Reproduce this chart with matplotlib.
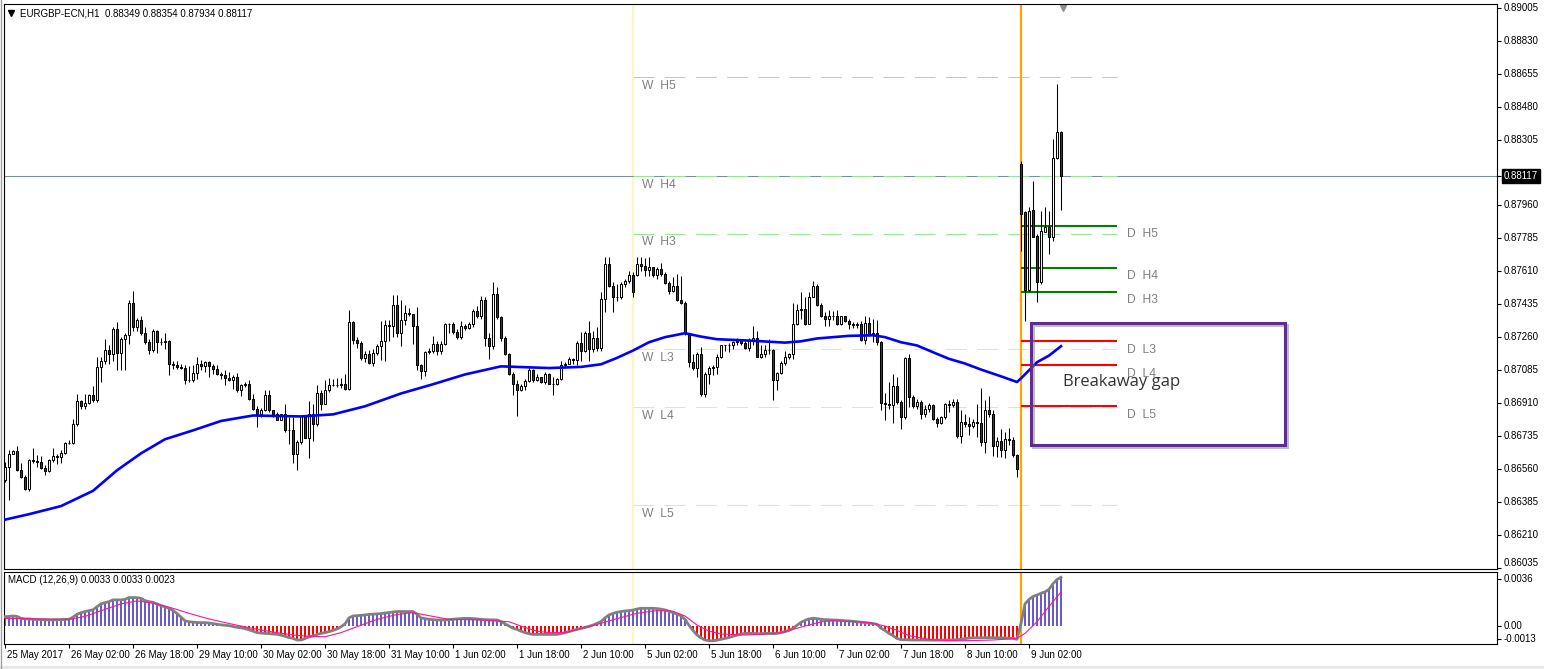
import numpy as np
import matplotlib
matplotlib.use('Agg')
import matplotlib.pyplot as plt
import matplotlib.transforms as mtransforms
import matplotlib.patheffects as pe
from matplotlib.patches import Rectangle
from matplotlib.lines import Line2D

plt.rcParams['font.family'] = ['Liberation Sans', 'DejaVu Sans']

# --- EURGBP-ECN H1 candles, prices in points (0.00001) above 0.86000 ---
BASE = 0.86
PT = 1e-5

open_pts = [
    500, 570, 640, 655, 555, 514, 455, 609, 602, 596,
    566, 548, 605, 627, 623, 644, 698, 699, 799, 918,
    891, 911, 953, 924, 1101, 1131, 1192, 1167, 1303, 1174,
    1250, 1268, 1440, 1312, 1351, 1280, 1232, 1193, 1291, 1235,
    1235, 1241, 1115, 1110, 1101, 1097, 1030, 1032, 1068, 1115,
    1104, 1127, 1104, 1090, 1065, 1056, 1043, 1033, 1050, 976,
    1003, 1012, 933, 879, 852, 870, 950, 870, 852, 821,
    849, 764, 764, 638, 703, 838, 726, 852, 796, 964,
    906, 977, 1003, 1005, 1007, 1009, 986, 1342, 1245, 1228,
    1149, 1170, 1122, 1174, 1210, 1236, 1322, 1316, 1428, 1280,
    1351, 1387, 1380, 1316, 1110, 1079, 1179, 1188, 1221, 1185,
    1221, 1327, 1330, 1286, 1259, 1316, 1309, 1327, 1398, 1369,
    1456, 1255, 1210, 1489, 1365, 1255, 1167, 1065, 1009, 980,
    998, 1027, 1087, 1030, 1050, 1021, 1065, 1012, 1008, 1038,
    1109, 1118, 1143, 1140, 1227, 1184, 1280, 1197, 1255, 1202,
    1461, 1647, 1532, 1470, 1474, 1541, 1559, 1591, 1591, 1647,
    1638, 1616, 1629, 1591, 1622, 1595, 1545, 1503, 1532, 1456,
    1438, 1280, 1127, 1097, 1170, 955, 1065, 1097, 1101, 1156,
    1215, 1215, 1220, 1232, 1237, 1227, 1202, 1244, 1255, 1156,
    1170, 1192, 1192, 1033, 1068, 1122, 1152, 1167, 1327, 1404,
    1409, 1330, 1474, 1532, 1428, 1369, 1356, 1374, 1369, 1327,
    1369, 1344, 1330, 1322, 1327, 1245, 1333, 1277, 1280, 1232,
    910, 906, 901, 998, 915, 835, 1146, 941, 892, 915,
    852, 879, 897, 826, 803, 835, 906, 897, 915, 734,
    809, 800, 789, 809, 803, 703, 874, 852, 680, 709,
    662, 716, 712, 633, 2178, 1921, 1507, 1934, 1798, 1550,
    1820, 1845, 1789, 2210, 2349]
high_pts = [
    596, 662, 662, 680, 591, 527, 613, 672, 634, 627,
    579, 614, 672, 640, 658, 703, 715, 826, 955, 924,
    955, 958, 1001, 1156, 1156, 1250, 1215, 1312, 1338, 1262,
    1280, 1456, 1506, 1362, 1374, 1312, 1250, 1303, 1295, 1255,
    1280, 1245, 1134, 1131, 1119, 1110, 1104, 1110, 1156, 1138,
    1134, 1134, 1119, 1110, 1074, 1086, 1074, 1056, 1068, 1012,
    1021, 1033, 958, 891, 885, 977, 977, 874, 861, 852,
    902, 835, 835, 712, 843, 843, 920, 902, 1003, 980,
    1033, 1044, 1038, 1044, 1044, 1065, 1401, 1347, 1259, 1238,
    1188, 1192, 1197, 1224, 1347, 1351, 1351, 1485, 1485, 1456,
    1428, 1416, 1380, 1419, 1119, 1188, 1203, 1263, 1241, 1241,
    1333, 1333, 1339, 1304, 1344, 1327, 1339, 1410, 1423, 1480,
    1471, 1280, 1550, 1525, 1374, 1263, 1174, 1074, 1030, 1012,
    1038, 1101, 1092, 1061, 1047, 1074, 1068, 1047, 1041, 1134,
    1127, 1152, 1149, 1241, 1285, 1294, 1347, 1291, 1312, 1497,
    1683, 1683, 1550, 1541, 1550, 1568, 1609, 1604, 1683, 1687,
    1680, 1683, 1630, 1633, 1651, 1604, 1559, 1580, 1595, 1586,
    1449, 1280, 1167, 1179, 1206, 1074, 1104, 1109, 1170, 1220,
    1220, 1227, 1241, 1255, 1241, 1237, 1255, 1316, 1294, 1220,
    1215, 1250, 1196, 1074, 1134, 1188, 1174, 1438, 1435, 1498,
    1471, 1498, 1556, 1541, 1439, 1392, 1405, 1398, 1401, 1374,
    1374, 1356, 1339, 1339, 1344, 1369, 1365, 1356, 1351, 1238,
    962, 1021, 1061, 1047, 924, 1153, 1167, 950, 933, 924,
    897, 910, 903, 835, 838, 910, 924, 933, 933, 870,
    852, 835, 826, 906, 991, 924, 944, 870, 730, 773,
    755, 778, 730, 641, 2192, 1930, 1952, 2086, 1807, 1930,
    1948, 1930, 2311, 2603, 2354]
low_pts = [
    491, 394, 638, 548, 509, 450, 443, 591, 570, 561,
    527, 543, 596, 588, 591, 640, 690, 690, 785, 879,
    879, 902, 915, 915, 1021, 1119, 1119, 1134, 1086, 1086,
    1086, 1224, 1294, 1294, 1268, 1224, 1167, 1179, 1177, 1220,
    1197, 1059, 1090, 1092, 1090, 1009, 1021, 1021, 1038, 1083,
    1074, 1047, 1065, 1056, 1038, 1003, 1026, 985, 967, 949,
    994, 924, 873, 781, 835, 867, 861, 835, 818, 818,
    755, 691, 591, 556, 694, 721, 615, 709, 785, 870,
    902, 968, 998, 995, 991, 980, 977, 1224, 1203, 1138,
    1128, 1115, 1104, 1162, 1138, 1135, 1238, 1259, 1259, 1210,
    1322, 1369, 1221, 1083, 1038, 1051, 1167, 1174, 1162, 1170,
    1215, 1280, 1277, 1250, 1250, 1298, 1304, 1313, 1362, 1356,
    1210, 1144, 1197, 1356, 1238, 1162, 1056, 950, 838, 973,
    977, 1020, 1021, 1026, 1016, 1012, 1008, 953, 1004, 1030,
    1097, 1115, 1115, 1109, 1134, 1179, 1134, 1179, 1188, 1188,
    1392, 1524, 1392, 1453, 1461, 1524, 1545, 1470, 1586, 1609,
    1586, 1586, 1577, 1568, 1586, 1541, 1488, 1497, 1449, 1435,
    1273, 1101, 1083, 1047, 949, 940, 1008, 1056, 1061, 1149,
    1188, 1179, 1197, 1215, 1215, 1195, 1188, 1215, 1152, 1149,
    1152, 1170, 924, 980, 1061, 1109, 1143, 1143, 1321, 1356,
    1322, 1330, 1471, 1423, 1365, 1316, 1316, 1351, 1322, 1322,
    1339, 1304, 1309, 1309, 1238, 1224, 1263, 1232, 1215, 870,
    821, 879, 803, 906, 773, 826, 888, 885, 879, 826,
    835, 861, 818, 782, 800, 826, 861, 888, 721, 698,
    782, 737, 778, 730, 680, 644, 835, 627, 624, 624,
    620, 685, 624, 518, 1719, 1344, 1503, 1789, 1444, 1541,
    1816, 1698, 1771, 2205, 1934]
close_pts = [
    570, 640, 655, 555, 514, 455, 609, 602, 596, 566,
    548, 605, 627, 623, 644, 698, 699, 799, 918, 891,
    911, 953, 924, 1101, 1131, 1192, 1167, 1303, 1174, 1250,
    1268, 1440, 1312, 1351, 1280, 1232, 1193, 1291, 1235, 1235,
    1241, 1115, 1110, 1101, 1097, 1030, 1032, 1068, 1115, 1104,
    1127, 1104, 1090, 1065, 1056, 1043, 1033, 1050, 976, 1003,
    1012, 933, 879, 852, 870, 950, 870, 852, 821, 849,
    764, 764, 638, 703, 838, 726, 852, 796, 964, 906,
    977, 1003, 1005, 1007, 1009, 986, 1342, 1245, 1228, 1149,
    1170, 1122, 1174, 1210, 1236, 1322, 1316, 1428, 1280, 1351,
    1387, 1380, 1316, 1110, 1079, 1179, 1188, 1221, 1185, 1221,
    1327, 1330, 1286, 1259, 1316, 1309, 1327, 1398, 1369, 1456,
    1255, 1210, 1489, 1365, 1255, 1167, 1065, 1009, 980, 998,
    1027, 1087, 1030, 1050, 1021, 1065, 1012, 1008, 1038, 1109,
    1118, 1143, 1140, 1227, 1184, 1280, 1197, 1255, 1202, 1461,
    1647, 1532, 1470, 1474, 1541, 1559, 1591, 1497, 1647, 1638,
    1616, 1629, 1591, 1622, 1595, 1545, 1503, 1532, 1456, 1438,
    1280, 1127, 1097, 1170, 955, 1065, 1097, 1101, 1156, 1215,
    1215, 1220, 1232, 1237, 1227, 1202, 1244, 1255, 1156, 1170,
    1192, 1192, 1033, 1068, 1122, 1152, 1167, 1327, 1404, 1409,
    1330, 1474, 1532, 1428, 1369, 1356, 1374, 1369, 1327, 1369,
    1344, 1330, 1322, 1327, 1245, 1333, 1277, 1280, 1232, 910,
    906, 901, 998, 915, 835, 1146, 941, 892, 915, 852,
    879, 897, 826, 803, 835, 906, 897, 915, 734, 809,
    800, 789, 809, 803, 703, 874, 852, 680, 709, 662,
    716, 712, 633, 561, 1913, 1507, 1930, 1793, 1550, 1824,
    1845, 1789, 2210, 2349, 2117]

# blue moving average, read at these bars
ma_bars = [0, 6, 14, 22, 28, 34, 40, 47, 54, 62, 74, 82, 90, 99, 107, 115,
           124, 136, 144, 149, 153, 157, 161, 165, 170, 174, 178, 186, 195,
           199, 203, 211, 217, 220, 224, 228, 232, 236, 240, 244, 249, 253,
           254, 258, 261, 264]
ma_pts = [290, 319, 362, 443, 552, 642, 717, 764, 814, 843, 838, 849, 892,
          960, 1009, 1061, 1104, 1095, 1101, 1115, 1149, 1188, 1232, 1259,
          1280, 1262, 1248, 1241, 1230, 1237, 1252, 1266, 1269, 1259, 1232,
          1215, 1179, 1144, 1119, 1087, 1051, 1021, 1040, 1126, 1161, 1211]

# MACD (12,26,9) main value per bar, in units of 0.0001
macd_main = [
    6.3, 6.5, 6.8, 6.5, 5.2, 4.8, 4.8, 4.5, 4.4, 4.3,
    4.2, 4.1, 4.1, 4.2, 4.3, 4.5, 4.6, 6.0, 8.0, 9.0,
    9.8, 10.4, 11.0, 13.0, 15.0, 15.8, 16.5, 17.7, 17.7, 17.7,
    18.0, 19.3, 19.3, 19.2, 18.8, 17.2, 16.5, 16.0, 15.0, 13.8,
    13.0, 12.0, 10.5, 8.5, 6.0, 3.5, 2.9, 2.6, 2.4, 2.3,
    2.3, 2.0, 1.6, 1.2, 0.8, 0.5, 0.2, -0.3, -0.9, -1.2,
    -1.8, -2.6, -3.5, -4.5, -4.8, -5.0, -5.2, -5.4, -5.6, -6.2,
    -7.0, -7.8, -8.4, -9.5, -9.5, -8.5, -7.3, -6.8, -5.8, -5.0,
    -4.5, -3.8, -3.0, -2.0, -0.5, 1.4, 5.5, 6.8, 7.0, 7.2,
    7.5, 7.9, 8.0, 8.2, 8.4, 8.8, 9.1, 9.5, 9.8, 9.8,
    9.8, 9.8, 9.8, 8.0, 5.5, 5.0, 4.5, 4.3, 4.1, 4.1,
    4.1, 4.3, 4.6, 4.8, 5.0, 5.2, 5.2, 5.0, 4.8, 4.5,
    4.3, 4.2, 4.1, 4.1, 3.0, 1.5, 0.0, -1.5, -2.3, -3.5,
    -4.5, -5.2, -5.7, -5.7, -5.7, -5.7, -5.7, -5.7, -5.7, -5.2,
    -4.5, -3.8, -3.0, -2.3, -1.6, -1.0, -0.2, 0.6, 1.8, 3.0,
    5.5, 7.5, 8.5, 9.3, 9.8, 10.2, 10.4, 10.8, 11.5, 12.0,
    12.0, 12.0, 12.0, 11.8, 11.4, 10.9, 10.0, 9.0, 8.0, 7.0,
    4.5, 0.5, -3.0, -6.1, -8.0, -9.5, -10.0, -10.0, -9.6, -9.0,
    -8.4, -7.8, -7.0, -6.2, -5.5, -5.0, -5.0, -5.0, -5.2, -5.2,
    -5.0, -5.0, -5.2, -5.0, -4.5, -3.8, -3.0, -1.6, 0.5, 2.5,
    3.8, 4.8, 5.2, 5.0, 4.6, 4.3, 4.2, 4.1, 4.0, 3.8,
    3.6, 3.4, 3.2, 2.9, 2.6, 2.3, 2.0, 1.6, 1.2, -1.5,
    -3.0, -5.0, -6.5, -8.5, -9.2, -9.3, -9.4, -9.5, -9.5, -9.5,
    -9.5, -9.6, -9.6, -9.6, -9.5, -9.5, -9.5, -9.4, -9.3, -9.0,
    -8.6, -8.2, -8.0, -8.0, -8.0, -7.9, -7.9, -7.9, -8.0, -8.0,
    -8.1, -8.2, -8.4, -9.0, 1.8, 15.0, 18.0, 20.0, 21.0, 22.2,
    23.1, 24.9, 28.6, 31.5, 33.0]
# MACD signal line, read at these bars (units of 0.0001)
sig_bars = [0, 16, 20, 25, 29, 33, 37, 42, 46, 50, 55, 59, 63, 68, 72, 76,
            80, 84, 88, 93, 98, 102, 106, 111, 119, 126, 130, 133, 136, 140,
            145, 149, 153, 158, 162, 165, 167, 170, 173, 176, 179, 185, 190,
            194, 198, 201, 204, 207, 212, 216, 220, 223, 226, 231, 235, 238,
            243, 247, 251, 253, 255, 258, 261, 264]
sig_vals = [5.2, 4.5, 6.5, 11.3, 15.0, 17.0, 15.6, 12.0, 8.6, 5.5, 2.3, 0.0,
            -2.3, -4.5, -6.1, -7.0, -7.3, -4.5, -0.5, 4.5, 7.8, 9.1, 7.0, 4.5,
            4.1, 2.9, -1.0, -3.5, -4.5, -4.5, -1.0, 1.8, 5.0, 8.6, 10.2, 10.4,
            10.0, 6.8, 0.7, -3.5, -5.4, -6.1, -5.5, -4.5, -1.5, 0.7, 2.8, 3.6,
            3.0, 2.3, 0.0, -3.0, -6.5, -9.1, -9.8, -10.0, -9.8, -9.5, -8.8,
            -8.4, -5.0, 2.9, 13.2, 23.0]

# pivot levels (points above 0.86000)
w_names = ['W  H5', 'W  H4', 'W  H3', 'W  L3', 'W  L4', 'W  L5']
w_pts = [2641, 2116, 1809, 1194, 886, 367]
d_names = ['D  H5', 'D  H4', 'D  H3', 'D  L3', 'D  L4', 'D  L5']
d_pts = [1851, 1628, 1501, 1236, 1109, 892]

price_ticks = [0.89005, 0.88830, 0.88655, 0.88480, 0.88305, 0.87960, 0.87785,
               0.87610, 0.87435, 0.87260, 0.87085, 0.86910, 0.86735, 0.86560,
               0.86385, 0.86210, 0.86035]
date_labels = ['25 May 2017', '26 May 02:00', '26 May 18:00', '29 May 10:00',
               '30 May 02:00', '30 May 18:00', '31 May 10:00', '1 Jun 02:00',
               '1 Jun 18:00', '2 Jun 10:00', '5 Jun 02:00', '5 Jun 18:00',
               '6 Jun 10:00', '7 Jun 02:00', '7 Jun 18:00', '8 Jun 10:00',
               '9 Jun 02:00']

o = BASE + np.array(open_pts) * PT
h = BASE + np.array(high_pts) * PT
l = BASE + np.array(low_pts) * PT
c = BASE + np.array(close_pts) * PT
x = np.arange(len(c))
macd = np.array(macd_main) * 1e-4
sig = np.array(sig_vals) * 1e-4

W, H = 1544, 669
fig = plt.figure(figsize=(W / 100, H / 100), dpi=100)
ax = fig.add_axes([4 / W, 1 - 569 / H, 1493 / W, 565 / H])
ax2 = fig.add_axes([4 / W, 1 - 644 / H, 1493 / W, 72 / H])

x_lo, x_hi = -0.25, 373
for a in (ax, ax2):
    a.set_xlim(x_lo, x_hi)
    for s in a.spines.values():
        s.set_color('black')
        s.set_linewidth(0.8)
ax.set_ylim(0.86028, 0.89028)
ax2.set_ylim(-0.00122, 0.00366)

# --- candles ---
up = c >= o
ax.vlines(x, l, h, color='black', lw=0.75, zorder=3)
ax.bar(x[up], (c - o)[up], bottom=o[up], width=0.55, color='white',
       edgecolor='black', lw=0.75, zorder=4)
ax.bar(x[~up], (c - o)[~up], bottom=o[~up], width=0.55, color='#3c3c3c',
       edgecolor='black', lw=0.75, zorder=4)

ax.plot(ma_bars, BASE + np.array(ma_pts) * PT, color='#0000ff', lw=1.9, zorder=5)

# vertical separators (week open, election gap)
for a in (ax, ax2):
    a.axvline(157, color='#fbf6c6', lw=1.6, zorder=1)
    a.axvline(253.95, color='#ffa500', lw=1.6, zorder=2)

# current price line
ax.axhline(c[-1], color='#7a8ca0', lw=0.75, zorder=1)

# weekly pivots
for name, lvl in zip(w_names, w_pts):
    y = BASE + lvl * PT
    col = '#98e698' if 'H' in name else '#f6d6d6'
    ax.hlines(y, 157, 278, colors=col, linestyles=(0, (20, 10)), lw=0.75, zorder=1)
    ax.annotate(name, (159.3, y), xytext=(0, -2), textcoords='offset points',
                va='top', ha='left', fontsize=8.7, color='#808080', zorder=6)

# daily pivots
for name, lvl in zip(d_names, d_pts):
    y = BASE + lvl * PT
    col = '#008000' if 'H' in name else '#ff0000'
    ax.hlines(y, 254, 278, colors=col, lw=1.5, zorder=2)
    ax.annotate(name, (280.5, y), xytext=(0, -2), textcoords='offset points',
                va='top', ha='left', fontsize=8.7, color='#808080', zorder=6)

# annotation box
box = Rectangle((256.5, BASE + 685 * PT), 63.5, (1332 - 685) * PT, fill=False,
                edgecolor='#5e2d8f', lw=2.2, zorder=7,
                path_effects=[pe.SimpleLineShadow(offset=(1.5, -1.5), shadow_color='gray', alpha=0.5),
                              pe.Normal()])
ax.add_patch(box)
ax.text(264.5, BASE + 1022 * PT, 'Breakaway gap', fontsize=12, family='Open Sans',
        color='#333333', va='center', ha='left', zorder=8)

# header
ax.plot([0.0047], [0.984], marker='v', ms=4.5, color='black', transform=ax.transAxes, clip_on=False)
ax.text(0.0107, 0.984, f'EURGBP-ECN,H1  {o[-1]:.5f} {h[-1]:.5f} {l[-1]:.5f} {c[-1]:.5f}',
        transform=ax.transAxes, fontsize=7, va='center', ha='left')
bt = mtransforms.blended_transform_factory(ax.transData, ax.transAxes)
ax.plot([264.5], [0.993], marker='v', ms=4, color='#909090', transform=bt, clip_on=False)

# right price scale
ax.set_xticks([])
ax.set_yticks(price_ticks + [c[-1]])
ax.tick_params(axis='y', left=False, right=True, labelleft=False, labelright=False,
               length=3, width=0.8, direction='out')
ry = mtransforms.blended_transform_factory(ax.transAxes, ax.transData)
for p in price_ticks:
    ax.text(1.0045, p, f'{p:.5f}', transform=ry, fontsize=7, clip_on=False,
            va='bottom' if p == price_ticks[-1] else 'center', ha='left')
ax.text(1.0045, c[-1], f'{c[-1]:.5f}', transform=ry, fontsize=7, color='white',
        va='center', ha='left', clip_on=False,
        bbox=dict(boxstyle='square,pad=0.2', fc='black', ec='black'))

# --- MACD pane ---
prev = np.r_[macd[0], macd[:-1]]
away = np.abs(macd) >= np.abs(prev)
cols = np.where(macd >= 0, '#6a5acd', '#ff0000')
widths = np.where(away, 0.7, 0.3)
ax2.bar(x, macd, width=widths, color=cols, zorder=2)
ax2.plot(x, macd, color='#808080', lw=2.0, zorder=3)
ax2.plot(sig_bars, sig, color='#ff1493', lw=0.8, zorder=4)
ax2.text(0.0027, 0.89, f'MACD (12,26,9) {macd[-1]:.4f} {macd[-1]:.4f} {sig[-1]:.4f}',
         transform=ax2.transAxes, fontsize=7, va='center', ha='left')

ax2.set_yticks([0.0032, 0.0, -0.00088])
ax2.tick_params(axis='y', left=False, right=True, labelleft=False, labelright=False,
                length=3, width=0.8, direction='out')
ry2 = mtransforms.blended_transform_factory(ax2.transAxes, ax2.transData)
for val, txt in zip([0.0032, 0.0, -0.00088], ['0.0036', '0.00', '-0.0013']):
    ax2.text(1.0045, val, txt, transform=ry2, fontsize=7, va='center', ha='left', clip_on=False)

date_bars = np.arange(0, 16 * len(date_labels), 16)
ax2.set_xticks(date_bars)
ax2.set_xticklabels([])
ax2.tick_params(axis='x', length=3, width=0.8, direction='out')
bx = mtransforms.blended_transform_factory(ax2.transData, ax2.transAxes)
for b, lab in zip(date_bars, date_labels):
    ax2.text(b + 0.4, -0.155, lab, transform=bx, fontsize=7, va='center', ha='left', clip_on=False)

# window frame
fig.add_artist(Line2D([0.6 / W, 0.6 / W], [0, 1], transform=fig.transFigure, color='#a0a0a0', lw=1))
fig.add_artist(Rectangle((0, 0), 1, 3 / H, transform=fig.transFigure, color='#e8e8e8', zorder=0))

fig.savefig('out.png', dpi=100)
